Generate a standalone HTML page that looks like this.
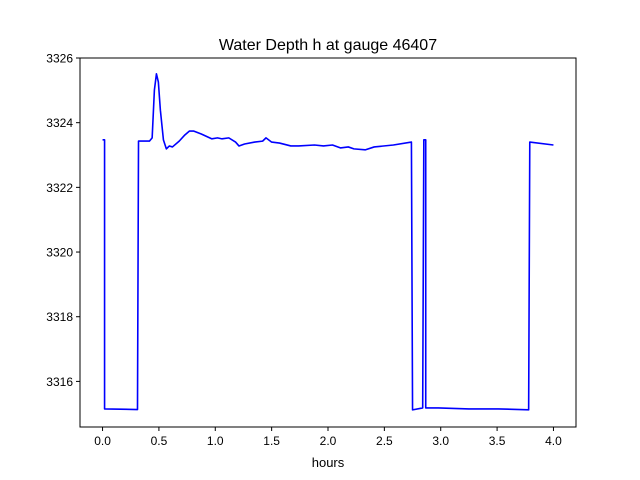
<!DOCTYPE html>
<html><head><meta charset="utf-8"><style>
html,body{margin:0;padding:0;background:#fff;}
svg{display:block;font-family:"Liberation Sans","DejaVu Sans",sans-serif;}
</style></head><body>
<svg id="chart" width="640" height="480" viewBox="0 0 640 480">
<rect width="640" height="480" fill="#fff"/>
<text x="328" y="50" text-anchor="middle" font-size="16">Water Depth h at gauge 46407</text>
<text x="328" y="467" text-anchor="middle" font-size="13">hours</text>
<g id="plot"></g>
</svg>
<script>
const xs = [0,0.018,0.018,0.31,0.319,0.416,0.44,0.46,0.478,0.495,0.513,0.54,0.566,0.593,0.62,0.68,0.73,0.77,0.81,0.876,0.97,1.02,1.06,1.12,1.18,1.21,1.26,1.35,1.42,1.45,1.5,1.57,1.67,1.74,1.88,1.96,2.04,2.11,2.18,2.23,2.33,2.41,2.58,2.74,2.75,2.84,2.85,2.867,2.867,2.876,2.98,3.25,3.51,3.78,3.79,4.0];
const ys = [3323.47,3323.47,3315.15,3315.13,3323.43,3323.43,3323.53,3325.01,3325.51,3325.26,3324.39,3323.47,3323.19,3323.28,3323.25,3323.43,3323.62,3323.74,3323.74,3323.65,3323.50,3323.53,3323.50,3323.53,3323.40,3323.28,3323.34,3323.40,3323.43,3323.53,3323.40,3323.37,3323.28,3323.28,3323.31,3323.28,3323.31,3323.22,3323.25,3323.19,3323.16,3323.25,3323.31,3323.40,3315.12,3315.18,3323.47,3323.47,3315.18,3315.18,3315.18,3315.15,3315.15,3315.12,3323.40,3323.31];
const xTicks = [0,0.5,1,1.5,2,2.5,3,3.5,4];
const xTickLabels = ["0.0","0.5","1.0","1.5","2.0","2.5","3.0","3.5","4.0"];
const yTicks = [3316,3318,3320,3322,3324,3326];
const yTickLabels = ["3316","3318","3320","3322","3324","3326"];

const L=80,R=576,T=58,B=427;
const xMin=-0.2,xMax=4.2,yMin=3314.59,yMax=3326;
const sx=v=>L+(v-xMin)/(xMax-xMin)*(R-L);
const sy=v=>B-(v-yMin)/(yMax-yMin)*(B-T);
const NS="http://www.w3.org/2000/svg";
const g=document.getElementById('plot');
function mk(tag,attrs){const e=document.createElementNS(NS,tag);for(const k in attrs)e.setAttribute(k,attrs[k]);g.appendChild(e);return e;}

const line=mk('polyline',{points:xs.map((x,i)=>sx(x).toFixed(2)+','+sy(ys[i]).toFixed(2)).join(' '),fill:'none',stroke:'#0000ff','stroke-width':1.6,'stroke-linejoin':'round'});



const frame=mk('rect',{x:L,y:T,width:R-L,height:B-T,fill:'none',stroke:'#000','stroke-width':1});



xTicks.forEach((v,i)=>{
  const t=mk('line',{x1:sx(v),x2:sx(v),y1:B,y2:B+4,stroke:'#000','stroke-width':1});
  
  
  const l=mk('text',{x:sx(v),y:B+18,'text-anchor':'middle','font-size':12});
  l.textContent=xTickLabels[i];
  
  
});
yTicks.forEach((v,i)=>{
  const t=mk('line',{x1:L-4,x2:L,y1:sy(v),y2:sy(v),stroke:'#000','stroke-width':1});
  
  
  const l=mk('text',{x:L-7,y:sy(v)+4.5,'text-anchor':'end','font-size':12});
  l.textContent=yTickLabels[i];
  
  
});
</script>
</body></html>
